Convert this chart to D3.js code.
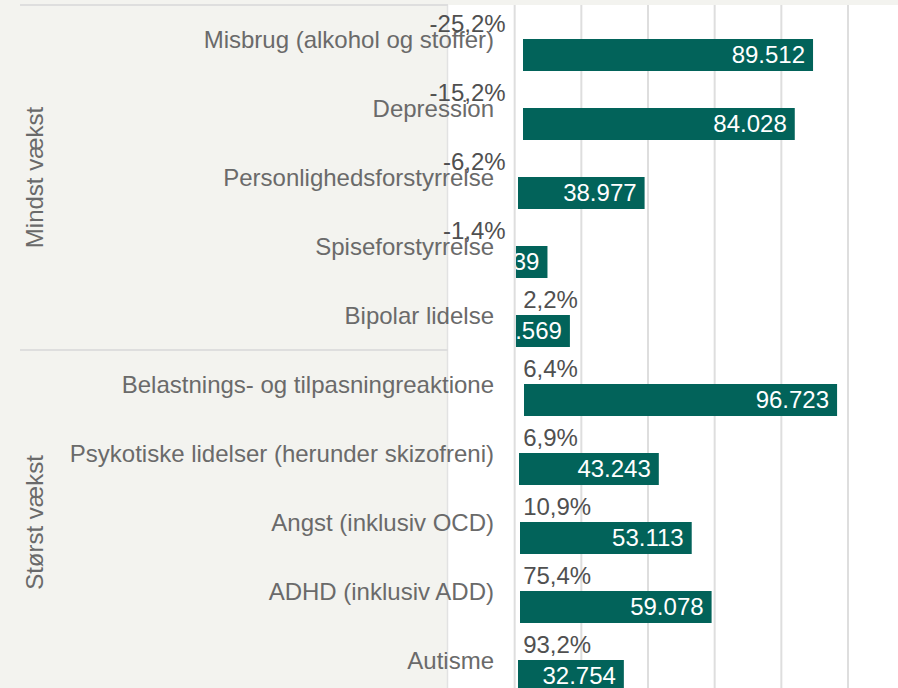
<!DOCTYPE html>
<html>
<head>
<meta charset="utf-8">
<script src="https://cdn.jsdelivr.net/npm/d3@7"></script>
<style>
  html, body { margin: 0; padding: 0; background: #f3f3ef; }
  svg { display: block; }
  text { font-family: "Liberation Sans", Arial, sans-serif; }
</style>
</head>
<body>
<svg id="chart" width="898" height="688"></svg>
<script>
// ---- data ----
const categories = [
  "Misbrug (alkohol og stoffer)",
  "Depression",
  "Personlighedsforstyrrelse",
  "Spiseforstyrrelse",
  "Bipolar lidelse",
  "Belastnings- og tilpasningreaktione",
  "Psykotiske lidelser (herunder skizofreni)",
  "Angst (inklusiv OCD)",
  "ADHD (inklusiv ADD)",
  "Autisme"
];
const groups = ["Mindst vækst","Mindst vækst","Mindst vækst","Mindst vækst","Mindst vækst",
                "Størst vækst","Størst vækst","Størst vækst","Størst vækst","Størst vækst"];
const groupNames = ["Mindst vækst", "Størst vækst"];
const growth = [-25.2, -15.2, -6.2, -1.4, 2.2, 6.4, 6.9, 10.9, 75.4, 93.2];
const values = [89512, 84028, 38977, 9839, 16569, 96723, 43243, 53113, 59078, 32754];
const barStart = [2500, 2500, 1000, -5000, -5000, 2800, 1300, 1600, 1600, 1000];
const gridTicks = [-20000, 0, 20000, 40000, 60000, 80000, 100000];

// ---- setup ----
const W = 898, H = 688;
const svg = d3.select("#chart");
const loc = d3.formatLocale({decimal: ",", thousands: ".", grouping: [3], currency: ["", " kr"], minus: "-"});
const fmtVal = loc.format(",d");
const fmtPct = v => loc.format(".1f")(v) + "%";

const paneLeft = 448, paneTop = 5;
const x = d3.scaleLinear().domain([-20000, 115000]).range([paneLeft, W]);
const y = d3.scaleBand().domain(categories).range([paneTop, paneTop + 69 * categories.length]).padding(0);

const bg = "#f3f3ef", gridCol = "#dedede", barCol = "#02635a";

// pane
svg.append("rect").attr("x", paneLeft).attr("y", paneTop)
  .attr("width", W - paneLeft).attr("height", H - paneTop).attr("fill", "#ffffff");
svg.append("line").attr("x1", paneLeft - 0.5).attr("x2", paneLeft - 0.5)
  .attr("y1", paneTop).attr("y2", H).attr("stroke", "#e2e2e2").attr("stroke-width", 1.5);

// gridlines
svg.append("g").selectAll("line").data(gridTicks.filter(t => t > -20000)).join("line")
  .attr("x1", d => x(d)).attr("x2", d => x(d))
  .attr("y1", paneTop).attr("y2", H)
  .attr("stroke", gridCol).attr("stroke-width", 2);

// group separator lines (left header)
const groupStarts = groupNames.map(g => categories[groups.indexOf(g)]);
svg.append("g").selectAll("line").data(groupStarts).join("line")
  .attr("x1", 20).attr("x2", paneLeft)
  .attr("y1", d => y(d)).attr("y2", d => y(d))
  .attr("stroke", gridCol).attr("stroke-width", 2);

// group labels
svg.append("g").selectAll("text").data(groupNames).join("text")
  .attr("transform", g => {
    const idx = groups.map((d, i) => d === g ? i : -1).filter(i => i >= 0);
    const y0 = y(categories[idx[0]]);
    const y1 = y(categories[idx[idx.length - 1]]) + y.bandwidth();
    return `translate(43,${(y0 + y1) / 2}) rotate(-90)`;
  })
  .attr("text-anchor", "middle")
  .attr("font-size", 24)
  .attr("fill", "#6a6a6a")
  .text(d => d);

// clip for bars
svg.append("clipPath").attr("id", "paneClip")
  .append("rect").attr("x", x(0) + 1.3).attr("y", paneTop)
  .attr("width", W - x(0)).attr("height", H - paneTop);

const data = categories.map((c, i) => ({c, g: groups[i], gr: growth[i], v: values[i], s: barStart[i]}));

const barsG = svg.append("g").attr("clip-path", "url(#paneClip)");
barsG.selectAll("rect").data(data).join("rect")
  .attr("x", d => x(d.s))
  .attr("y", d => y(d.c) + 34)
  .attr("width", d => x(d.v) - x(d.s))
  .attr("height", 32)
  .attr("fill", barCol);
barsG.selectAll("text").data(data).join("text")
  .attr("x", d => x(d.v) - 8)
  .attr("y", d => y(d.c) + 58.3)
  .attr("text-anchor", "end")
  .attr("font-size", 24)
  .attr("fill", "#ffffff")
  .text(d => fmtVal(d.v));

// category labels
svg.append("g").selectAll("text").data(data).join("text")
  .attr("x", 494)
  .attr("y", d => y(d.c) + 43.3)
  .attr("text-anchor", "end")
  .attr("font-size", 24)
  .attr("fill", "#6a6a6a")
  .text(d => d.c);

// growth labels
svg.append("g").selectAll("text").data(data).join("text")
  .attr("x", d => d.gr < 0 ? x(0) - 9 : x(0) + 8.5)
  .attr("y", d => y(d.c) + 27.3)
  .attr("text-anchor", d => d.gr < 0 ? "end" : "start")
  .attr("font-size", 24)
  .attr("fill", "#505050")
  .text(d => fmtPct(d.gr));

// top strip
svg.append("rect").attr("x", 0).attr("y", 0).attr("width", W).attr("height", 4).attr("fill", bg);
svg.append("line").attr("x1", 20).attr("x2", paneLeft).attr("y1", 5).attr("y2", 5)
  .attr("stroke", gridCol).attr("stroke-width", 2);
</script>
</body>
</html>
